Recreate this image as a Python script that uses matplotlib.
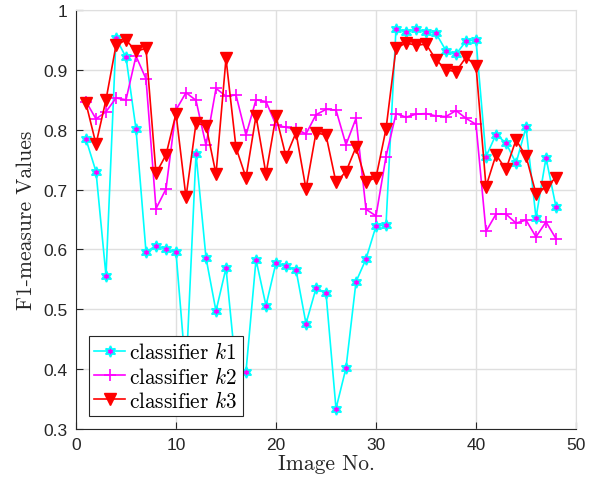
import numpy as np
import matplotlib
matplotlib.use("Agg")
import matplotlib.pyplot as plt

# data (image index 1..48)
image_no = np.arange(1, 49)

k1 = [0.784, 0.730, 0.556, 0.953, 0.921, 0.801, 0.596, 0.606, 0.601, 0.595,
      0.392, 0.760, 0.586, 0.497, 0.569, 0.398, 0.396, 0.583, 0.506, 0.578,
      0.572, 0.566, 0.476, 0.535, 0.527, 0.334, 0.402, 0.546, 0.584, 0.639,
      0.641, 0.969, 0.964, 0.968, 0.964, 0.961, 0.932, 0.926, 0.948, 0.950,
      0.755, 0.792, 0.778, 0.744, 0.804, 0.653, 0.753, 0.671]

k2 = [0.847, 0.818, 0.830, 0.853, 0.850, 0.923, 0.885, 0.668, 0.701, 0.833,
      0.862, 0.849, 0.774, 0.869, 0.856, 0.858, 0.791, 0.850, 0.847, 0.808,
      0.804, 0.801, 0.793, 0.825, 0.834, 0.833, 0.775, 0.819, 0.667, 0.656,
      0.755, 0.827, 0.821, 0.826, 0.827, 0.823, 0.822, 0.832, 0.819, 0.809,
      0.630, 0.659, 0.659, 0.644, 0.649, 0.621, 0.646, 0.618]

k3 = [0.844, 0.776, 0.850, 0.941, 0.950, 0.931, 0.936, 0.727, 0.758, 0.827,
      0.687, 0.811, 0.807, 0.726, 0.919, 0.770, 0.720, 0.823, 0.726, 0.823,
      0.755, 0.795, 0.701, 0.795, 0.791, 0.712, 0.730, 0.771, 0.713, 0.720,
      0.801, 0.936, 0.945, 0.941, 0.943, 0.917, 0.900, 0.897, 0.921, 0.907,
      0.705, 0.758, 0.734, 0.783, 0.756, 0.693, 0.704, 0.720]

series_labels = [r'classifier $k1$', r'classifier $k2$', r'classifier $k3$']

plt.rcParams['mathtext.fontset'] = 'cm'
plt.rcParams['axes.unicode_minus'] = False

fig = plt.figure(figsize=(5.96, 4.89), dpi=100)
ax = fig.add_axes([76/596, 1 - 430/489, 500/596, 419/489])

# six-pointed star like matlab's hexagram
ax.plot(image_no, k1, color='cyan', lw=1.2, marker=(6, 1, 0), ms=8,
        mfc='magenta', mec='cyan', mew=1.2, label=series_labels[0])
ax.plot(image_no, k2, color='magenta', lw=1.2, marker='+', ms=9,
        mew=1.2, label=series_labels[1])
ax.plot(image_no, k3, color='red', lw=1.2, marker='v', ms=9,
        mfc='red', mec='red', label=series_labels[2])

ax.set_xlim(0, 50)
ax.set_ylim(0.3, 1)
ax.set_xticks([0, 10, 20, 30, 40, 50])
ax.set_yticks([0.3, 0.4, 0.5, 0.6, 0.7, 0.8, 0.9, 1])
ax.set_yticklabels(['0.3', '0.4', '0.5', '0.6', '0.7', '0.8', '0.9', '1'])

ax.grid(True, color='#dfdfdf', lw=1)
ax.set_axisbelow(True)
for s in ['top', 'right']:
    ax.spines[s].set_color('#dfdfdf')
for s in ['left', 'bottom']:
    ax.spines[s].set_color('#262626')
ax.tick_params(direction='in', length=5, color='#262626', labelcolor='#262626',
               top=False, right=False, pad=6)
for lab in ax.get_xticklabels() + ax.get_yticklabels():
    lab.set_fontfamily('Liberation Sans')
    lab.set_fontsize(12.5)

ax.set_xlabel('Image No.', fontfamily='cmr10', fontsize=15.5, color='#262626', labelpad=1)
ax.set_ylabel('F1-measure Values', fontfamily='cmr10', fontsize=15.5, color='#262626', labelpad=5)

leg = ax.legend(loc='lower left', bbox_to_anchor=(0.026, 0.031),
                prop={'family': 'cmr10', 'size': 15.3}, fancybox=False,
                edgecolor='#262626', framealpha=1, borderpad=0.25,
                labelspacing=0.15, handlelength=1.45, handletextpad=0.2,
                borderaxespad=0)
leg.get_frame().set_linewidth(0.8)

fig.savefig('out.png', dpi=100)
